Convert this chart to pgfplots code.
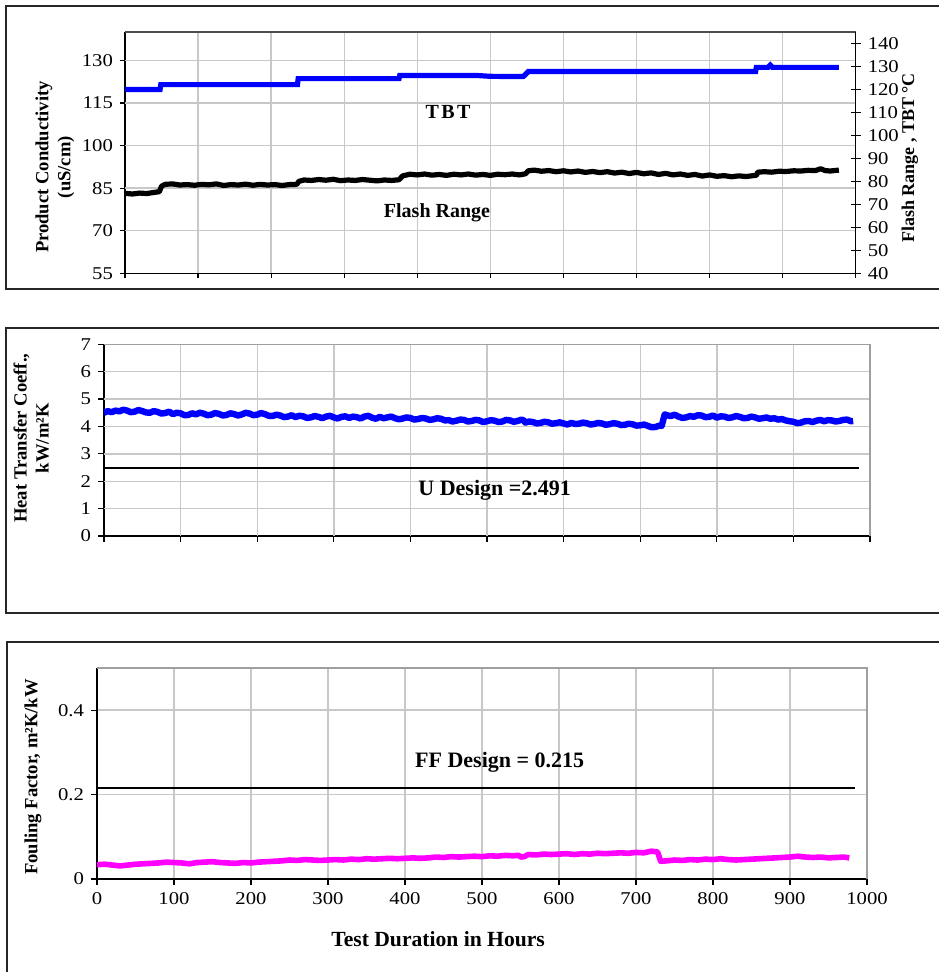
\documentclass[border=0pt]{standalone}
\usepackage{fontspec}
\setmainfont{Liberation Serif}
\newfontfamily\tickfont{Liberation Serif}[FakeStretch=1.15]
\usepackage{pgfplots}
\pgfplotsset{compat=1.18}
\definecolor{pmag}{RGB}{255,0,255}
\definecolor{pblue}{RGB}{0,0,255}
\definecolor{gridgray}{RGB}{200,200,200}

\tikzset{annot/.style={font=\bfseries\fontsize{10}{12}\selectfont},
  gl/.style={draw=gridgray, line width=0.7pt}}
\pgfplotsset{
 common/.style={
  scale only axis, xmin=0, xmax=1000, xtick={0,100,...,1000},
  axis x line*=bottom, axis y line*=left,
  axis line style={-, black, line width=0.7pt},
  tick align=outside, major tick length=3pt,
  tick style={black, line width=0.6pt},
  xmajorgrids=true, ymajorgrids=true,
  major grid style={draw=gridgray, line width=0.7pt},
  tick label style={font=\tickfont\fontsize{9}{10}\selectfont},
  /pgf/number format/assume math mode=true,
  /pgf/number format/1000 sep={},
  ylabel style={font=\bfseries\fontsize{9.3}{11}\selectfont, align=center, anchor=center},
  extra description/.code={\draw[gray!75, line width=0.6pt] (rel axis cs:0,1) -- (rel axis cs:1,1) -- (rel axis cs:1,0);},
 },
}

\pgfplotstableread{
t v
0 120.0
48 120.0
49 122.1
236 122.1
237 124.7
375 124.7
376 126.1
480 126.1
500 125.7
545 125.6
548 126.5
552 127.8
863 127.8
864 129.6
880 129.6
883 130.6
886 129.6
977 129.6
}\tbt

\pgfplotstableread{
t v
0 74.8
10 74.5
20 74.9
30 74.7
40 75.2
47 75.5
50 77.9
55 78.7
65 78.9
75 78.4
85 78.6
95 78.3
105 78.7
115 78.5
125 78.9
135 78.2
145 78.6
155 78.4
165 78.8
175 78.3
185 78.7
195 78.4
205 78.6
215 78.2
225 78.6
235 78.7
238 80.0
245 80.6
255 80.4
265 80.8
275 80.5
285 80.9
295 80.3
305 80.6
315 80.4
325 80.8
335 80.5
345 80.2
355 80.6
365 80.4
375 80.7
380 82.4
390 83.1
400 82.8
410 83.2
420 82.7
430 83.0
440 82.6
450 83.1
460 82.8
470 83.2
480 82.7
490 83.0
500 82.6
510 83.1
520 82.9
530 83.2
540 82.8
548 83.3
552 84.6
560 84.9
570 84.4
580 84.7
590 84.2
600 84.6
610 84.1
620 84.5
630 83.9
640 84.3
650 83.8
660 84.2
670 83.6
680 84.0
690 83.4
700 83.9
710 83.3
720 83.7
730 83.0
740 83.5
750 82.8
760 83.2
770 82.6
780 83.0
790 82.3
800 82.8
810 82.2
820 82.5
830 82.0
840 82.4
850 82.1
860 82.5
864 82.6
866 84.0
875 84.2
885 84.0
895 84.4
905 84.3
915 84.6
925 84.5
935 84.8
945 84.7
952 85.5
958 84.7
965 84.5
977 84.9
}\flash

\pgfplotstableread{
t v
0 4.50
5 4.56
10 4.52
15 4.58
20 4.55
25 4.61
30 4.58
35 4.52
40 4.54
45 4.60
50 4.56
55 4.51
60 4.50
65 4.56
70 4.53
75 4.47
80 4.49
85 4.54
90 4.45
95 4.50
100 4.48
105 4.41
110 4.42
115 4.48
120 4.44
125 4.50
130 4.47
135 4.41
140 4.43
145 4.49
150 4.46
155 4.40
160 4.42
165 4.48
170 4.45
175 4.40
180 4.44
185 4.50
190 4.47
195 4.41
200 4.43
205 4.49
210 4.45
215 4.39
220 4.38
225 4.43
230 4.40
235 4.34
240 4.36
245 4.41
250 4.34
255 4.39
260 4.37
265 4.31
270 4.33
275 4.38
280 4.35
285 4.30
290 4.36
295 4.39
300 4.33
305 4.29
310 4.35
315 4.37
320 4.31
325 4.36
330 4.34
335 4.29
340 4.36
345 4.39
350 4.32
355 4.28
360 4.35
365 4.30
370 4.33
375 4.36
380 4.30
385 4.26
390 4.29
395 4.33
400 4.31
405 4.25
410 4.27
415 4.31
420 4.29
425 4.24
430 4.26
435 4.30
440 4.28
445 4.22
450 4.23
455 4.18
460 4.21
465 4.25
470 4.24
475 4.18
480 4.20
485 4.24
490 4.22
495 4.16
500 4.19
505 4.23
510 4.21
515 4.16
520 4.18
525 4.24
530 4.22
535 4.17
540 4.20
545 4.25
548 4.22
550 4.14
555 4.18
560 4.16
565 4.11
570 4.13
575 4.17
580 4.15
585 4.10
590 4.12
595 4.15
600 4.11
605 4.07
610 4.13
615 4.09
620 4.10
625 4.14
630 4.12
635 4.07
640 4.09
645 4.13
650 4.11
655 4.06
660 4.08
665 4.12
670 4.10
675 4.05
680 4.06
685 4.10
690 4.08
695 4.03
700 4.04
705 4.07
710 4.02
715 3.97
720 3.98
725 4.03
728 4.02
732 4.44
736 4.40
740 4.38
745 4.43
750 4.36
755 4.31
760 4.33
765 4.38
770 4.35
775 4.41
780 4.40
785 4.34
790 4.35
795 4.40
800 4.32
805 4.37
810 4.36
815 4.31
820 4.33
825 4.38
830 4.35
835 4.30
840 4.31
845 4.36
850 4.33
855 4.28
860 4.30
865 4.33
870 4.28
875 4.30
880 4.25
885 4.27
890 4.22
895 4.19
900 4.17
905 4.12
910 4.14
915 4.19
920 4.20
925 4.16
930 4.21
935 4.24
940 4.19
945 4.23
950 4.22
955 4.18
960 4.20
965 4.24
970 4.25
975 4.19
978 4.20
}\htc

\pgfplotstableread{
t v
0 0.034
10 0.035
20 0.033
30 0.031
40 0.033
50 0.035
60 0.036
70 0.037
80 0.038
90 0.040
100 0.039
110 0.038
120 0.036
130 0.039
140 0.040
150 0.041
160 0.039
170 0.038
180 0.037
190 0.039
200 0.038
210 0.040
220 0.041
230 0.042
240 0.043
250 0.045
260 0.044
270 0.046
280 0.045
290 0.044
300 0.045
310 0.046
320 0.045
330 0.047
340 0.046
350 0.048
360 0.047
370 0.048
380 0.049
390 0.048
400 0.049
410 0.050
420 0.049
430 0.050
440 0.052
450 0.051
460 0.053
470 0.052
480 0.053
490 0.054
500 0.053
510 0.055
520 0.054
530 0.056
540 0.055
548 0.056
550 0.052
555 0.053
560 0.058
570 0.057
580 0.059
590 0.058
600 0.059
610 0.060
620 0.058
630 0.060
640 0.059
650 0.061
660 0.060
670 0.061
680 0.062
690 0.061
700 0.063
710 0.062
720 0.066
728 0.064
732 0.042
740 0.043
750 0.045
760 0.044
770 0.046
780 0.045
790 0.047
800 0.046
810 0.048
820 0.046
830 0.045
840 0.046
850 0.047
860 0.048
870 0.049
880 0.050
890 0.051
900 0.052
910 0.054
920 0.052
930 0.051
940 0.052
950 0.050
960 0.051
970 0.052
977 0.050
}\ff

\begin{document}
\begin{tikzpicture}
\useasboundingbox (0,0) rectangle (469pt,486pt);
% panel frames
\draw[line width=1.2pt, black!85] (3pt,341.5pt) rectangle (472pt,483pt);
\draw[line width=1.2pt, black!85] (3pt,179.5pt) rectangle (472pt,322pt);
\draw[line width=1.2pt, black!85] (3.5pt,-3pt) rectangle (472pt,165pt);

% ---------- Panel 1 ----------
\begin{axis}[common,
  at={(62.5pt,349.35pt)}, anchor=south west,
  width=365.35pt, height=120.65pt,
  ymin=55, ymax=140, ytick={55,70,85,100,115,130},
  xticklabels={},
  major tick length=2.5pt,
  ylabel={Product Conductivity\\(uS/cm)},
  ylabel style={at={(axis description cs:-0.096,0.44)}},
  extra description/.code={\draw[black!70, line width=0.6pt] (rel axis cs:0,1) -- (rel axis cs:1,1);},
]
\pgfplotsinvokeforeach{70,85,100,115,130}{\draw[gl] (axis cs:0,#1) -- (axis cs:1000,#1);}
\pgfplotsinvokeforeach{100,200,...,900}{\draw[gl] (axis cs:#1,55) -- (axis cs:#1,140);}
\node[annot] at (rel axis cs:0.442,0.668) {T\kern1.2pt B\kern1.2pt T};
\node[annot] at (rel axis cs:0.427,0.25) {Flash Range};
\end{axis}
\begin{axis}[
  scale only axis,
  at={(62.5pt,349.35pt)}, anchor=south west,
  width=365.35pt, height=120.65pt,
  xmin=0, xmax=1000, ymin=40, ymax=145,
  axis x line=none, axis y line*=right,
  axis line style={-, black, line width=0.7pt},
  ytick={40,50,...,140},
  tick align=center, major tick length=5pt,
  tick style={black, line width=0.6pt},
  tick label style={font=\tickfont\fontsize{9}{10}\selectfont},
  /pgf/number format/assume math mode=true,
  ylabel={Flash Range , TBT \textdegree C},
  ylabel style={font=\bfseries\fontsize{9}{11}\selectfont, at={(axis description cs:1.074,0.478)}, anchor=center},
]
\addplot[pblue, line width=2.6pt, no markers] table[x=t, y=v] {\tbt};
\addplot[black, line width=2.6pt, no markers, line join=round] table[x=t, y=v] {\flash};
\end{axis}

% ---------- Panel 2 ----------
\begin{axis}[common,
  at={(52pt,218pt)}, anchor=south west,
  width=383pt, height=95.85pt,
  ymin=0, ymax=7, ytick={0,1,2,3,4,5,6,7},
  xticklabels={},
  ylabel={Heat Transfer Coeff.,\\kW/m²K},
  ylabel style={at={(axis description cs:-0.095,0.51)}},
]
\pgfplotsinvokeforeach{1,...,6}{\draw[gl] (axis cs:0,#1) -- (axis cs:1000,#1);}
\pgfplotsinvokeforeach{100,200,...,900}{\draw[gl] (axis cs:#1,0) -- (axis cs:#1,7);}
\addplot[pblue, line width=3.2pt, no markers, line join=round] table[x=t, y=v] {\htc};
\addplot[black, line width=0.8pt, no markers] coordinates {(0,2.491) (986,2.491)};
\node[font=\bfseries\fontsize{11}{13}\selectfont] at (rel axis cs:0.51,0.24) {U Design =2.491};
\end{axis}

% ---------- Panel 3 ----------
\begin{axis}[common,
  at={(48.5pt,46.5pt)}, anchor=south west,
  width=385pt, height=105.5pt,
  ymin=0, ymax=0.5, ytick={0,0.2,0.4},
  yticklabel style={/pgf/number format/fixed},
  ylabel={Fouling Factor, m²K/kW},
  ylabel style={at={(axis description cs:-0.083,0.483)}},
  xlabel={Test Duration in Hours},
  xlabel style={font=\bfseries\fontsize{10.8}{12}\selectfont, at={(axis description cs:0.443,-0.284)}, anchor=center},
]
\addplot[pmag, line width=2.8pt, no markers, line join=round] table[x=t, y=v] {\ff};
\addplot[black, line width=0.8pt, no markers] coordinates {(0,0.215) (985,0.215)};
\node[font=\bfseries\fontsize{11}{13}\selectfont] at (rel axis cs:0.523,0.555) {FF Design = 0.215};
\end{axis}
\end{tikzpicture}
\end{document}
